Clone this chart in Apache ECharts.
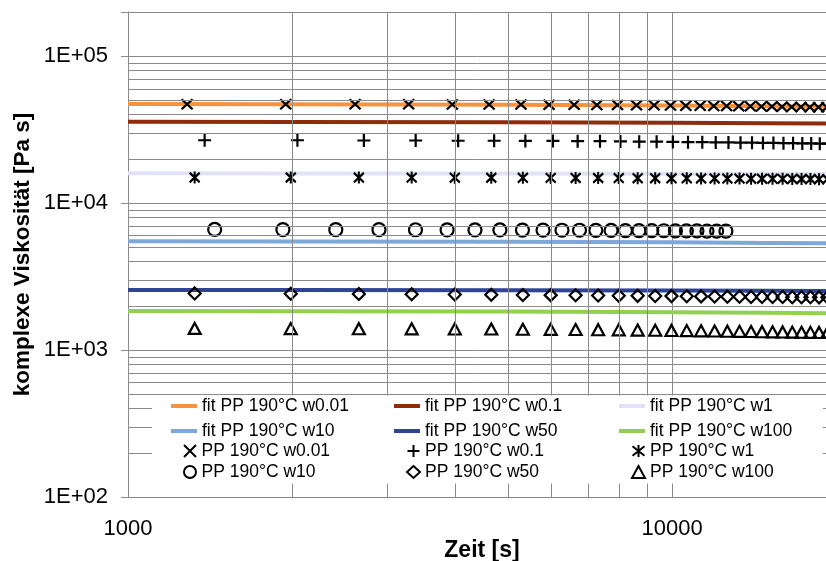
<!DOCTYPE html>
<html>
<head>
<meta charset="utf-8">
<script src="https://cdn.jsdelivr.net/npm/echarts@6/dist/echarts.min.js"></script>
<style>
  html, body { margin: 0; padding: 0; background: #fff; }
  #chart { width: 826px; height: 561px; }
</style>
</head>
<body>
<div id="chart"></div>
<script>
// Measured viscosity (Pa s) over time (s) for PP at 190 °C and several frequencies
const TIME_W001 = [1284, 1949, 2614, 3279, 3944, 4609, 5274, 5939, 6604, 7269, 7934, 8599, 9264, 9929, 10594, 11259, 11924, 12589, 13254, 13919, 14584, 15249, 15914, 16579, 17244, 17909, 18574, 19239, 19904];
const VIS_W001 = [47200, 47200, 47100, 47100, 47000, 46900, 46900, 46800, 46700, 46600, 46500, 46400, 46300, 46200, 46100, 46000, 45900, 45800, 45700, 45600, 45500, 45400, 45300, 45200, 45100, 45000, 44900, 44900, 44800];

const TIME_W01 = [1383, 2048, 2713, 3378, 4043, 4708, 5373, 6038, 6703, 7368, 8033, 8698, 9363, 10028, 10693, 11358, 12023, 12688, 13353, 14018, 14683, 15348, 16013, 16678, 17343, 18008, 18673, 19338];
const VIS_W01 = [26800, 26800, 26700, 26700, 26600, 26600, 26500, 26500, 26400, 26400, 26300, 26200, 26200, 26100, 26000, 26000, 25900, 25900, 25800, 25800, 25700, 25700, 25600, 25600, 25500, 25500, 25400, 25400];

const TIME_W1 = [1326, 1991, 2656, 3321, 3986, 4651, 5316, 5981, 6646, 7311, 7976, 8641, 9306, 9971, 10636, 11301, 11966, 12631, 13296, 13961, 14626, 15291, 15956, 16621, 17286, 17951, 18616, 19281, 19946];
const VIS_W1 = [14950, 14950, 14930, 14920, 14900, 14890, 14870, 14860, 14840, 14830, 14810, 14800, 14780, 14770, 14750, 14740, 14720, 14710, 14690, 14680, 14660, 14650, 14630, 14620, 14600, 14590, 14570, 14560, 14550];

const TIME_W10 = [1443, 1926, 2409, 2892, 3375, 3858, 4341, 4824, 5307, 5790, 6273, 6756, 7239, 7722, 8205, 8688, 9171, 9654, 10137, 10620, 11103, 11586, 12069, 12552];
const VIS_W10 = [6620, 6610, 6600, 6600, 6590, 6580, 6570, 6570, 6560, 6550, 6540, 6540, 6530, 6520, 6510, 6510, 6500, 6490, 6480, 6480, 6470, 6460, 6460, 6450];

const TIME_W50 = [1326, 1991, 2656, 3321, 3986, 4651, 5316, 5981, 6646, 7311, 7976, 8641, 9306, 9971, 10636, 11301, 11966, 12631, 13296, 13961, 14626, 15291, 15956, 16621, 17286, 17951, 18616, 19281, 19946];
const VIS_W50 = [2430, 2420, 2410, 2400, 2390, 2380, 2370, 2365, 2360, 2350, 2345, 2340, 2335, 2330, 2325, 2320, 2315, 2310, 2305, 2300, 2300, 2295, 2295, 2290, 2290, 2290, 2285, 2285, 2285];

const TIME_W100 = [1326, 1991, 2656, 3321, 3986, 4651, 5316, 5981, 6646, 7311, 7976, 8641, 9306, 9971, 10636, 11301, 11966, 12631, 13296, 13961, 14626, 15291, 15956, 16621, 17286, 17951, 18616, 19281, 19946];
const VIS_W100 = [1404, 1400, 1398, 1395, 1392, 1390, 1386, 1383, 1380, 1376, 1372, 1368, 1364, 1360, 1356, 1352, 1348, 1344, 1340, 1337, 1334, 1331, 1328, 1325, 1322, 1320, 1318, 1316, 1314];

// Fitted curves
const FIT_TIME = [1000, 2000, 5000, 10000, 15000, 20000];
const FIT_W001 = [47300, 47200, 46800, 46200, 45700, 45200];
const FIT_W01 = [35800, 35700, 35500, 35200, 35000, 34800];
const FIT_W1 = [15950, 15930, 15900, 15860, 15830, 15800];
const FIT_W10 = [5500, 5490, 5460, 5410, 5360, 5320];
const FIT_W50 = [2565, 2560, 2550, 2540, 2530, 2525];
const FIT_W100 = [1845, 1840, 1830, 1810, 1795, 1780];

// Intermediate grid positions of the log axes
const X_MINOR = [2000, 3000, 4000, 5000, 6000, 7000, 8000, 9000, 20000];
const Y_MINOR = [200, 300, 400, 500, 600, 700, 800, 900,
                 2000, 3000, 4000, 5000, 6000, 7000, 8000, 9000,
                 20000, 30000, 40000, 50000, 60000, 70000, 80000, 90000, 200000];

const FONT = '"Liberation Sans", Arial, sans-serif';
const GRID_COLOR = '#8a8a8a';

const SYM_X = 'path://M0,0L10,10M10,0L0,10';
const SYM_PLUS = 'path://M5,0L5,10M0,5L10,5';
const SYM_STAR = 'path://M0,1L10,9M10,1L0,9M5,0L5,10';

function pairs(xs, ys) { return xs.map((x, i) => [x, ys[i]]); }

function fitSeries(name, ys, color) {
  return {
    name, type: 'line', data: pairs(FIT_TIME, ys),
    showSymbol: false, symbol: 'none', z: 2, silent: true,
    lineStyle: { width: 4, color }, itemStyle: { color }
  };
}
function markSeries(name, xs, ys, symbol, size) {
  return {
    name, type: 'scatter', data: pairs(xs, ys), symbol, symbolSize: size, z: 3, silent: true,
    itemStyle: { color: 'transparent', borderColor: '#000', borderWidth: 2.2, opacity: 1 }
  };
}

const lineLegendBase = {
  orient: 'vertical', padding: 0, itemWidth: 26, itemHeight: 4, itemGap: 5,
  selectedMode: false, icon: 'rect', z: 20,
  textStyle: { fontFamily: FONT, fontSize: 17.5, color: '#000', lineHeight: 20 }
};
const markLegendBase = {
  orient: 'vertical', padding: 0, itemWidth: 13, itemHeight: 12, itemGap: 1,
  selectedMode: false, z: 20,
  textStyle: { fontFamily: FONT, fontSize: 17.5, color: '#000', lineHeight: 20 }
};

const chart = echarts.init(document.getElementById('chart'), null, { renderer: 'canvas' });
chart.setOption({
  animation: false,
  backgroundColor: '#fff',
  grid: { left: 128, top: 12, right: -10, bottom: 64, containLabel: false, outerBoundsMode: 'none' },
  xAxis: {
    type: 'log', logBase: 10, min: 1000, max: 20000,
    name: 'Zeit [s]', nameLocation: 'middle', nameGap: 42, nameMoveOverlap: false,
    nameTextStyle: { fontFamily: FONT, fontSize: 23, fontWeight: 'bold', color: '#000' },
    axisLine: { show: true, lineStyle: { color: GRID_COLOR, width: 1 } },
    axisTick: { show: false },
    axisLabel: {
      fontFamily: FONT, fontSize: 22, color: '#000', margin: 21,
      formatter: v => (Math.abs(Math.log10(v) - Math.round(Math.log10(v))) < 1e-6 ? String(Math.round(v)) : '')
    },
    splitLine: { show: true, lineStyle: { color: GRID_COLOR, width: 1 } },
    minorTick: { show: false }, minorSplitLine: { show: false }
  },
  yAxis: {
    type: 'log', logBase: 10, min: 100, max: 200000,
    name: 'komplexe Viskosität [Pa s]', nameLocation: 'middle', nameGap: 94, nameMoveOverlap: false,
    nameTextStyle: { fontFamily: FONT, fontSize: 22.5, fontWeight: 'bold', color: '#000' },
    axisLine: { show: true, lineStyle: { color: GRID_COLOR, width: 1 } },
    axisTick: { show: true, length: 7, lineStyle: { color: GRID_COLOR } },
    axisLabel: {
      fontFamily: FONT, fontSize: 22, color: '#000', margin: 20,
      formatter: v => {
        const e = Math.log10(v);
        const r = Math.round(e);
        if (Math.abs(e - r) > 1e-6) return '';
        return '1E+' + String(r).padStart(2, '0');
      }
    },
    splitLine: { show: true, lineStyle: { color: GRID_COLOR, width: 1 } }
  },
  legend: [
    Object.assign({}, lineLegendBase, { left: 171, top: 396, data: ['fit PP 190°C w0.01', 'fit PP 190°C w10'] }),
    Object.assign({}, lineLegendBase, { left: 394, top: 396, data: ['fit PP 190°C w0.1', 'fit PP 190°C w50'] }),
    Object.assign({}, lineLegendBase, { left: 619, top: 396, data: ['fit PP 190°C w1', 'fit PP 190°C w100'] }),
    Object.assign({}, markLegendBase, { left: 183, top: 441, data: [{ name: 'PP 190°C w0.01', icon: SYM_X }, { name: 'PP 190°C w10', icon: 'circle' }] }),
    Object.assign({}, markLegendBase, { left: 406, top: 441, data: [{ name: 'PP 190°C w0.1', icon: SYM_PLUS }, { name: 'PP 190°C w50', icon: 'diamond' }] }),
    Object.assign({}, markLegendBase, { left: 631, top: 441, data: [{ name: 'PP 190°C w1', icon: SYM_STAR }, { name: 'PP 190°C w100', icon: 'triangle' }] })
  ],
  graphic: {
    elements: [{
      type: 'rect', z: 10, zlevel: 0, silent: true,
      shape: { x: 152, y: 395.5, width: 671, height: 88 },
      style: { fill: '#fff' }
    }]
  },
  series: [
    {
      name: 'grid', type: 'line', data: [], z: 1, silent: true,
      markLine: {
        silent: true, symbol: ['none', 'none'], animation: false,
        label: { show: false },
        lineStyle: { color: GRID_COLOR, width: 1, type: 'solid' },
        emphasis: { disabled: true },
        data: X_MINOR.map(v => ({ xAxis: v })).concat(Y_MINOR.map(v => ({ yAxis: v })))
      }
    },
    fitSeries('fit PP 190°C w0.01', FIT_W001, '#F7923F'),
    fitSeries('fit PP 190°C w0.1', FIT_W01, '#902C0E'),
    fitSeries('fit PP 190°C w1', FIT_W1, '#E2E2F6'),
    fitSeries('fit PP 190°C w10', FIT_W10, '#7EA7DA'),
    fitSeries('fit PP 190°C w50', FIT_W50, '#2F4494'),
    fitSeries('fit PP 190°C w100', FIT_W100, '#92D050'),
    markSeries('PP 190°C w0.01', TIME_W001, VIS_W001, SYM_X, [11, 10]),
    markSeries('PP 190°C w0.1', TIME_W01, VIS_W01, SYM_PLUS, [13, 13]),
    markSeries('PP 190°C w1', TIME_W1, VIS_W1, SYM_STAR, [10, 12]),
    markSeries('PP 190°C w10', TIME_W10, VIS_W10, 'circle', 13),
    markSeries('PP 190°C w50', TIME_W50, VIS_W50, 'diamond', [12, 12]),
    markSeries('PP 190°C w100', TIME_W100, VIS_W100, 'triangle', [12, 11])
  ]
});
</script>
</body>
</html>
